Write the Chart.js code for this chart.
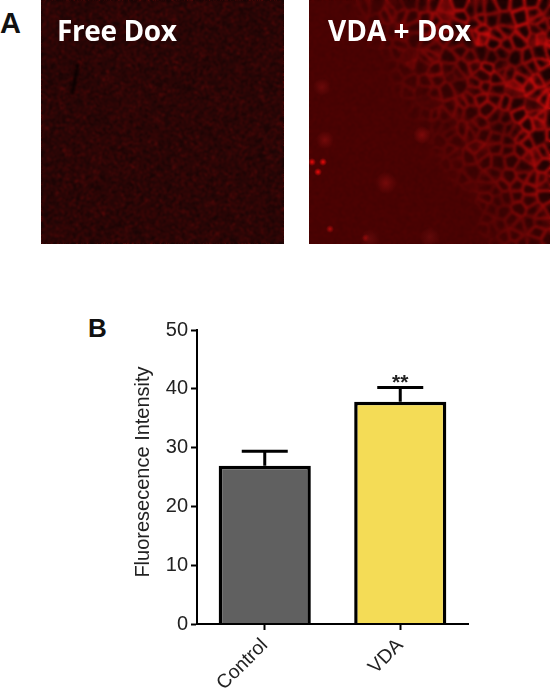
<!DOCTYPE html>
<html>
<head>
<meta charset="utf-8">
<title>Free Dox vs VDA + Dox</title>
<script src="https://cdn.jsdelivr.net/npm/chart.js@4/dist/chart.umd.min.js"></script>
<style>
  html, body { margin: 0; padding: 0; background: #fff; }
  #page { position: relative; width: 550px; height: 691px; overflow: hidden; }
  .micro { position: absolute; top: 0; height: 244px; }
  .letter { position: absolute; font: 700 29px "Liberation Sans", Arial, sans-serif; line-height: 1; color: #111; }
  .caption { position: absolute; top: 11px; font: 700 28px "Open Sans", sans-serif; line-height: 38px; color: #fff; white-space: nowrap; }
  #chartWrap { position: absolute; left: 0; top: 300px; width: 550px; height: 391px; }
</style>
</head>
<body>
<div id="page">
  <canvas id="freeDox" class="micro" style="left:41px" width="243" height="244"></canvas>
  <canvas id="vdaDox" class="micro" style="left:309px" width="241" height="244"></canvas>
  <div class="letter" style="left:0;top:9px">A</div>
  <div class="letter" style="left:88px;top:315px;font-size:26px">B</div>
  <div class="caption" style="left:57px;letter-spacing:-.4px">Free Dox</div>
  <div class="caption" style="left:328px">VDA + Dox</div>
  <div id="chartWrap"><canvas id="barChart" width="550" height="391"></canvas></div>
</div>
<script>
const categories = ["Control", "VDA"];
const intensity = [26.9, 37.8];
const errorTop = [29.4, 40.2];
const barColors = ["#606060", "#f4dc56"];
const significance = ["", "**"];
const yTicks = [0, 10, 20, 30, 40, 50];
const yTitle = "Fluoresecence Intensity";
const axisFont = "'Liberation Sans', Arial, sans-serif";

// micrograph panels are only a texture, the seed keeps them the same every run
function seeded(seed) {
  return () => {
    seed = (seed + 0x6d2b79f5) | 0;
    let t = Math.imul(seed ^ (seed >>> 15), 1 | seed);
    t ^= t + Math.imul(t ^ (t >>> 7), 61 | t);
    return ((t ^ (t >>> 14)) >>> 0) / 4294967296;
  };
}

function softenCanvas(c, ctx, px) {
  const copy = document.createElement("canvas");
  copy.width = c.width;
  copy.height = c.height;
  copy.getContext("2d").drawImage(c, 0, 0);
  ctx.filter = `blur(${px}px)`;
  ctx.drawImage(copy, 0, 0);
  ctx.filter = "none";
}

function paintFreeDox() {
  const c = document.getElementById("freeDox");
  const ctx = c.getContext("2d");
  const rnd = seeded(11);
  const img = ctx.createImageData(c.width, c.height);
  for (let i = 0; i < img.data.length; i += 4) {
    const n = rnd();
    img.data[i] = 22 + n * n * n * 85;
    img.data[i + 1] = 3 + n * 4;
    img.data[i + 2] = 3 + n * 4;
    img.data[i + 3] = 255;
  }
  ctx.putImageData(img, 0, 0);
  softenCanvas(c, ctx, 0.8);
  // dark scratch in the upper left
  ctx.filter = "blur(1.5px)";
  ctx.strokeStyle = "rgba(0,0,0,.95)";
  ctx.lineWidth = 3;
  ctx.beginPath();
  ctx.moveTo(37, 63);
  ctx.lineTo(31, 95);
  ctx.stroke();
  ctx.filter = "none";
}

function paintVdaDox() {
  const c = document.getElementById("vdaDox");
  const ctx = c.getContext("2d");
  const rnd = seeded(29);
  const w = c.width, h = c.height, cell = 12;
  const cols = Math.ceil(w / cell) + 2, rows = Math.ceil(h / cell) + 2;
  const pts = [];
  for (let i = 0; i < cols * rows; i++) pts.push([rnd() * cell, rnd() * cell, 0.3 + rnd() * 0.7]);
  const img = ctx.createImageData(w, h);
  for (let y = 0; y < h; y++) {
    for (let x = 0; x < w; x++) {
      let d1 = 1e9, d2 = 1e9, glow = 1;
      const gx = Math.floor(x / cell), gy = Math.floor(y / cell);
      for (let b = Math.max(gy - 1, 0); b <= gy + 1 && b < rows; b++) {
        for (let a = Math.max(gx - 1, 0); a <= gx + 1 && a < cols; a++) {
          const p = pts[b * cols + a];
          const d = Math.hypot(a * cell + p[0] - x, b * cell + p[1] - y);
          if (d < d1) { d2 = d1; d1 = d; glow = p[2]; } else if (d < d2) d2 = d;
        }
      }
      const ridge = Math.max(0, 1 - (d2 - d1) / 6) * glow;
      const mesh = Math.min(1, Math.max(0, (x / w - 0.1 - 0.6 * (y / h)) * 1.8));
      const i = (y * w + x) * 4;
      img.data[i] = 62 + ridge * mesh * 150 - mesh * (1 - ridge) * 42 + rnd() * 22;
      img.data[i + 1] = 2 + ridge * mesh * 10;
      img.data[i + 2] = 2 + ridge * mesh * 10;
      img.data[i + 3] = 255;
    }
  }
  ctx.putImageData(img, 0, 0);
  softenCanvas(c, ctx, 0.9);
  const spots = [[3, 162, 4, 255], [14, 162, 4, 255], [9, 172, 4, 255], [21, 229, 4, 190], [57, 238, 4, 200],
    [16, 140, 9, 120], [13, 87, 9, 110], [113, 135, 9, 130], [77, 183, 11, 120], [121, 237, 10, 100], [61, 239, 10, 100]];
  for (const [x, y, r, red] of spots) {
    const g = ctx.createRadialGradient(x, y, 0, x, y, r);
    g.addColorStop(0, `rgba(${red},10,10,.9)`);
    g.addColorStop(1, `rgba(${red},10,10,0)`);
    ctx.fillStyle = g;
    ctx.beginPath();
    ctx.arc(x, y, r, 0, Math.PI * 2);
    ctx.fill();
  }
}

// GraphPad style whiskers (upper side only) and the significance stars
const errorBars = {
  id: "errorBars",
  afterDatasetsDraw(chart) {
    const { ctx, scales: { y } } = chart;
    const meta = chart.getDatasetMeta(0);
    ctx.save();
    ctx.strokeStyle = "#000";
    ctx.lineWidth = 3;
    meta.data.forEach((bar, i) => {
      const top = y.getPixelForValue(errorTop[i]);
      ctx.beginPath();
      ctx.moveTo(bar.x, y.getPixelForValue(intensity[i]));
      ctx.lineTo(bar.x, top);
      ctx.moveTo(bar.x - 23, top);
      ctx.lineTo(bar.x + 23, top);
      ctx.stroke();
      if (significance[i]) {
        ctx.fillStyle = "#222";
        ctx.font = `700 21px ${axisFont}`;
        ctx.textAlign = "center";
        ctx.textBaseline = "alphabetic";
        ctx.fillText(significance[i], bar.x, top + 1);
      }
    });
    ctx.restore();
  },
};

// the built-in title always centres on the scale, the original sits a little higher
const sideTitle = {
  id: "sideTitle",
  afterDraw(chart) {
    const { ctx, scales: { y } } = chart;
    ctx.save();
    ctx.translate(y.left + 10, (y.top + y.bottom) / 2 - 5);
    ctx.rotate(-Math.PI / 2);
    ctx.fillStyle = "#222";
    ctx.font = `20px ${axisFont}`;
    ctx.textAlign = "center";
    ctx.textBaseline = "middle";
    ctx.fillText(yTitle, 0, 0);
    ctx.restore();
  },
};

paintFreeDox();
paintVdaDox();

new Chart(document.getElementById("barChart"), {
  type: "bar",
  data: {
    labels: categories,
    datasets: [{
      data: intensity,
      backgroundColor: barColors,
      borderColor: "#000",
      borderWidth: 3.5,
      borderSkipped: "start",
      barPercentage: 0.68,
      categoryPercentage: 1,
    }],
  },
  options: {
    responsive: false,
    animation: false,
    layout: { padding: { left: 133, right: 82, top: 30, bottom: 0 } },
    plugins: { legend: { display: false }, tooltip: { enabled: false } },
    scales: {
      x: {
        offset: true,
        afterFit: (s) => { s.height = 67; },
        border: { color: "#000", width: 2, z: 1 },
        grid: { offset: false, drawOnChartArea: false, color: "#000", tickLength: 6, tickWidth: 2 },
        ticks: {
          color: "#222",
          font: { family: axisFont, size: 19.5 },
          minRotation: 45,
          maxRotation: 45,
          padding: 4,
        },
      },
      y: {
        min: 0,
        max: 50,
        afterFit: (s) => { s.width = 64; },
        afterBuildTicks: (s) => { s.ticks = yTicks.map((v) => ({ value: v })); },
        border: { color: "#000", width: 2 },
        grid: { drawOnChartArea: false, color: "#000", tickLength: 6, tickWidth: 2 },
        ticks: {
          color: "#222",
          font: { family: axisFont, size: 20 },
          padding: 3,
        },
      },
    },
  },
  plugins: [errorBars, sideTitle],
});
</script>
</body>
</html>
